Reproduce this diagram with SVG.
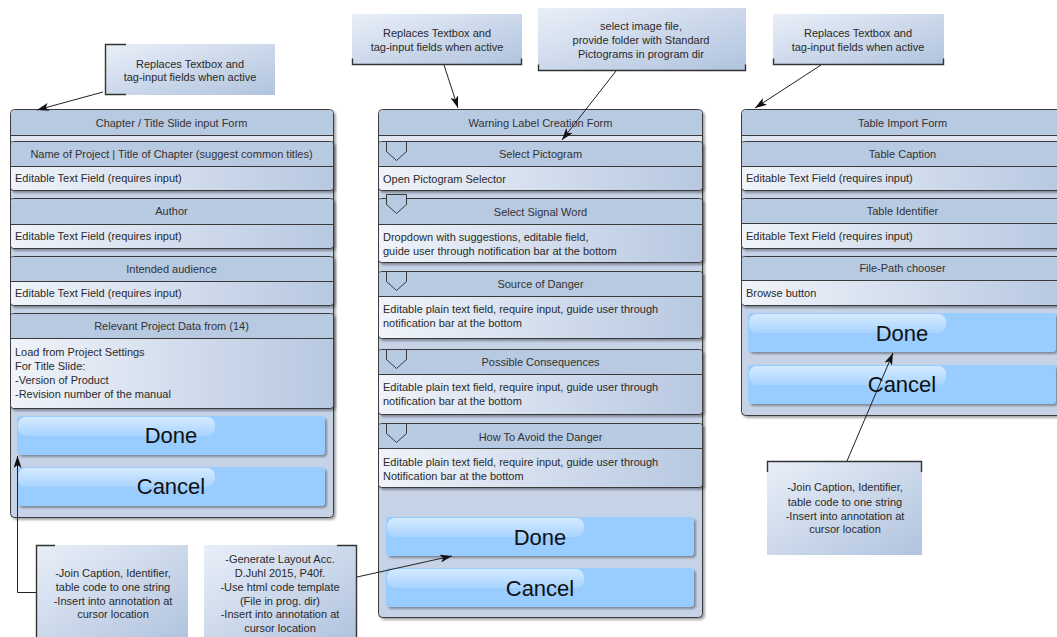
<svg xmlns="http://www.w3.org/2000/svg" width="1057" height="637" viewBox="0 0 1057 637">
  <defs>
    <linearGradient id="noteFill" x1="0" y1="0" x2="1" y2="1">
      <stop offset="0" stop-color="#e9eff8"/>
      <stop offset="1" stop-color="#b0c3de"/>
    </linearGradient>
    <linearGradient id="rowFill" x1="0" y1="0" x2="1" y2="0">
      <stop offset="0" stop-color="#f0f4fa"/>
      <stop offset="1" stop-color="#b7c8e1"/>
    </linearGradient>
    <linearGradient id="glossFill" x1="0" y1="0" x2="0" y2="1">
      <stop offset="0" stop-color="#ffffff" stop-opacity="0.6"/>
      <stop offset="1" stop-color="#ffffff" stop-opacity="0.15"/>
    </linearGradient>
    <filter id="shadow" x="-5%" y="-5%" width="110%" height="115%">
      <feDropShadow dx="2" dy="2" stdDeviation="1.3" flood-color="#000" flood-opacity="0.35"/>
    </filter>
    <marker id="arrow" viewBox="0 0 12 8" refX="12" refY="4" markerWidth="12" markerHeight="8" markerUnits="userSpaceOnUse" orient="auto">
      <path d="M0,0 L12,4 L0,8 L3,4 z" fill="#111"/>
    </marker>
  </defs>
  <style>
    text { font-family: "Liberation Sans", Arial, sans-serif; font-size: 11px; fill: #2a2a2a; }
    .c { text-anchor: middle; }
    .hdtxt { fill: #333; }
    .btntxt { font-size: 22px; fill: #111; text-anchor: middle; }
    .form { fill: #c6d3e7; stroke: #3a3a3a; stroke-width: 1; filter: url(#shadow); }
    .formhd { fill: #b8c9e2; }
    .strip { fill: #dfe6f1; }
    .sep { stroke: #3a3a3a; stroke-width: 1; }
    .secbg { fill: url(#rowFill); stroke: #3a3a3a; stroke-width: 1; filter: url(#shadow); }
    .sechd { fill: #b8c9e2; }
    .pent { fill: #b8c9e2; stroke: #3a3a3a; stroke-width: 1; }
    .btn { fill: #99ccff; filter: url(#shadow); }
    .gloss { fill: url(#glossFill); }
    .note { fill: url(#noteFill); }
    .bracket { fill: none; stroke: #333; stroke-width: 1.4; }
    .conn { fill: none; stroke: #222; stroke-width: 1; }
  </style>

  <rect width="1057" height="637" fill="#ffffff"/>

  <!-- Chapter / Title slide form -->
  <g id="form-chapter">
    <rect class="form" x="10.5" y="109.5" width="323" height="408" rx="4"/>
    <rect class="formhd" x="11" y="110" width="322" height="25" rx="3.5"/>
    <rect class="strip" x="11" y="136" width="322" height="5"/>
    <line class="sep" x1="10.5" y1="135.5" x2="333.5" y2="135.5"/>
    <text class="c hdtxt" x="171.5" y="127">Chapter / Title Slide input Form</text>

    <g id="chapter-name">
      <rect class="secbg" x="10.5" y="141.5" width="323" height="49" rx="3"/>
      <rect class="sechd" x="11" y="142" width="322" height="24.5" rx="2.5"/>
      <line class="sep" x1="10.5" y1="166.5" x2="333.5" y2="166.5"/>
      <text class="c hdtxt" x="171.5" y="158">Name of Project | Title of Chapter (suggest common titles)</text>
      <text x="15" y="182">Editable Text Field (requires input)</text>
    </g>
    <g id="chapter-author">
      <rect class="secbg" x="10.5" y="198.5" width="323" height="50" rx="3"/>
      <rect class="sechd" x="11" y="199" width="322" height="25.5" rx="2.5"/>
      <line class="sep" x1="10.5" y1="224.5" x2="333.5" y2="224.5"/>
      <text class="c hdtxt" x="171.5" y="215">Author</text>
      <text x="15" y="240">Editable Text Field (requires input)</text>
    </g>
    <g id="chapter-audience">
      <rect class="secbg" x="10.5" y="256.5" width="323" height="49" rx="3"/>
      <rect class="sechd" x="11" y="257" width="322" height="24.5" rx="2.5"/>
      <line class="sep" x1="10.5" y1="281.5" x2="333.5" y2="281.5"/>
      <text class="c hdtxt" x="171.5" y="273">Intended audience</text>
      <text x="15" y="297">Editable Text Field (requires input)</text>
    </g>
    <g id="chapter-projectdata">
      <rect class="secbg" x="10.5" y="313.5" width="323" height="95" rx="3"/>
      <rect class="sechd" x="11" y="314" width="322" height="24.5" rx="2.5"/>
      <line class="sep" x1="10.5" y1="338.5" x2="333.5" y2="338.5"/>
      <text class="c hdtxt" x="171.5" y="330">Relevant Project Data from (14)</text>
      <text x="15" y="356">Load from Project Settings</text>
      <text x="15" y="370">For Title Slide:</text>
      <text x="15" y="384">-Version of Product</text>
      <text x="15" y="398">-Revision number of the manual</text>
    </g>
    <g id="chapter-done">
      <rect class="btn" x="17" y="416" width="308" height="39" rx="4"/>
      <rect class="gloss" x="18" y="417" width="197" height="19" rx="8"/>
      <text class="btntxt" x="171" y="443">Done</text>
    </g>
    <g id="chapter-cancel">
      <rect class="btn" x="17" y="467" width="308" height="39" rx="4"/>
      <rect class="gloss" x="18" y="468" width="197" height="19" rx="8"/>
      <text class="btntxt" x="171" y="494">Cancel</text>
    </g>
  </g>

  <!-- Warning label form -->
  <g id="form-warning">
    <rect class="form" x="378.5" y="109.5" width="324" height="508" rx="4"/>
    <rect class="formhd" x="379" y="110" width="323" height="25" rx="3.5"/>
    <rect class="strip" x="379" y="136" width="323" height="5"/>
    <line class="sep" x1="378.5" y1="135.5" x2="702.5" y2="135.5"/>
    <text class="c hdtxt" x="540.5" y="127">Warning Label Creation Form</text>

    <g id="warning-pictogram">
      <rect class="secbg" x="378.5" y="141.5" width="324" height="49" rx="3"/>
      <rect class="sechd" x="379" y="142" width="323" height="24.5" rx="2.5"/>
      <line class="sep" x1="378.5" y1="166.5" x2="702.5" y2="166.5"/>
      <polygon class="pent" points="386.5,141.5 406.5,141.5 406.5,151.5 396.5,160.5 386.5,151.5"/>
      <text class="c hdtxt" x="540.5" y="158">Select Pictogram</text>
      <text x="383" y="183">Open Pictogram Selector</text>
    </g>
    <g id="warning-signalword">
      <rect class="secbg" x="378.5" y="198.5" width="324" height="64" rx="3"/>
      <rect class="sechd" x="379" y="199" width="323" height="25.5" rx="2.5"/>
      <line class="sep" x1="378.5" y1="224.5" x2="702.5" y2="224.5"/>
      <polygon class="pent" points="386.5,194.5 406.5,194.5 406.5,204.5 396.5,213.5 386.5,204.5"/>
      <text class="c hdtxt" x="540.5" y="216">Select Signal Word</text>
      <text x="383" y="241">Dropdown with suggestions, editable field,</text>
      <text x="383" y="255">guide user through notification bar at the bottom</text>
    </g>
    <g id="warning-source">
      <rect class="secbg" x="378.5" y="271.5" width="324" height="67" rx="3"/>
      <rect class="sechd" x="379" y="272" width="323" height="24.5" rx="2.5"/>
      <line class="sep" x1="378.5" y1="296.5" x2="702.5" y2="296.5"/>
      <polygon class="pent" points="386.5,271.5 406.5,271.5 406.5,281.5 396.5,290.5 386.5,281.5"/>
      <text class="c hdtxt" x="540.5" y="288">Source of Danger</text>
      <text x="383" y="313">Editable plain text field, require input, guide user through</text>
      <text x="383" y="327">notification bar at the bottom</text>
    </g>
    <g id="warning-consequences">
      <rect class="secbg" x="378.5" y="349.5" width="324" height="65" rx="3"/>
      <rect class="sechd" x="379" y="350" width="323" height="24.5" rx="2.5"/>
      <line class="sep" x1="378.5" y1="374.5" x2="702.5" y2="374.5"/>
      <polygon class="pent" points="386.5,349.5 406.5,349.5 406.5,359.5 396.5,368.5 386.5,359.5"/>
      <text class="c hdtxt" x="540.5" y="366">Possible Consequences</text>
      <text x="383" y="391">Editable plain text field, require input, guide user through</text>
      <text x="383" y="405">notification bar at the bottom</text>
    </g>
    <g id="warning-avoid">
      <rect class="secbg" x="378.5" y="423.5" width="324" height="64" rx="3"/>
      <rect class="sechd" x="379" y="424" width="323" height="24.5" rx="2.5"/>
      <line class="sep" x1="378.5" y1="448.5" x2="702.5" y2="448.5"/>
      <polygon class="pent" points="386.5,423.5 406.5,423.5 406.5,433.5 396.5,442.5 386.5,433.5"/>
      <text class="c hdtxt" x="540.5" y="441">How To Avoid the Danger</text>
      <text x="383" y="466">Editable plain text field, require input, guide user through</text>
      <text x="383" y="480">Notification bar at the bottom</text>
    </g>
    <g id="warning-done">
      <rect class="btn" x="386" y="517" width="308" height="39" rx="4"/>
      <rect class="gloss" x="387" y="518" width="197" height="19" rx="8"/>
      <text class="btntxt" x="540" y="545">Done</text>
    </g>
    <g id="warning-cancel">
      <rect class="btn" x="386" y="568" width="308" height="39" rx="4"/>
      <rect class="gloss" x="387" y="569" width="197" height="19" rx="8"/>
      <text class="btntxt" x="540" y="596">Cancel</text>
    </g>
  </g>

  <!-- Table import form -->
  <g id="form-table">
    <rect class="form" x="741.5" y="109.5" width="323" height="306" rx="4"/>
    <rect class="formhd" x="742" y="110" width="322" height="25" rx="3.5"/>
    <rect class="strip" x="742" y="136" width="322" height="5"/>
    <line class="sep" x1="741.5" y1="135.5" x2="1064.5" y2="135.5"/>
    <text class="c hdtxt" x="902.5" y="127">Table Import Form</text>

    <g id="table-caption">
      <rect class="secbg" x="741.5" y="141.5" width="323" height="49" rx="3"/>
      <rect class="sechd" x="742" y="142" width="322" height="24.5" rx="2.5"/>
      <line class="sep" x1="741.5" y1="166.5" x2="1064.5" y2="166.5"/>
      <text class="c hdtxt" x="902.5" y="158">Table Caption</text>
      <text x="746" y="182">Editable Text Field (requires input)</text>
    </g>
    <g id="table-identifier">
      <rect class="secbg" x="741.5" y="198.5" width="323" height="50" rx="3"/>
      <rect class="sechd" x="742" y="199" width="322" height="24.5" rx="2.5"/>
      <line class="sep" x1="741.5" y1="223.5" x2="1064.5" y2="223.5"/>
      <text class="c hdtxt" x="902.5" y="215">Table Identifier</text>
      <text x="746" y="240">Editable Text Field (requires input)</text>
    </g>
    <g id="table-filepath">
      <rect class="secbg" x="741.5" y="256.5" width="323" height="49" rx="3"/>
      <rect class="sechd" x="742" y="257" width="322" height="23.5" rx="2.5"/>
      <line class="sep" x1="741.5" y1="280.5" x2="1064.5" y2="280.5"/>
      <text class="c hdtxt" x="902.5" y="272">File-Path chooser</text>
      <text x="746" y="297">Browse button</text>
    </g>
    <g id="table-done">
      <rect class="btn" x="748" y="313" width="308" height="39" rx="4"/>
      <rect class="gloss" x="749" y="314" width="197" height="19" rx="8"/>
      <text class="btntxt" x="902" y="341">Done</text>
    </g>
    <g id="table-cancel">
      <rect class="btn" x="748" y="365" width="308" height="39" rx="4"/>
      <rect class="gloss" x="749" y="366" width="197" height="19" rx="8"/>
      <text class="btntxt" x="902" y="392">Cancel</text>
    </g>
  </g>

  <!-- Notes -->
  <g id="note-chapter">
    <rect class="note" x="105" y="44" width="170" height="51"/>
    <path class="bracket" d="M126,44.5 H105.5 V94.5 H126"/>
    <text class="c" x="190" y="68">Replaces Textbox and</text>
    <text class="c" x="190" y="81">tag-input fields when active</text>
  </g>
  <g id="note-warning">
    <rect class="note" x="352" y="14" width="170" height="51"/>
    <path class="bracket" d="M352.5,58.5 V64.5 H521.5 V58.5"/>
    <text class="c" x="437" y="37">Replaces Textbox and</text>
    <text class="c" x="437" y="51">tag-input fields when active</text>
  </g>
  <g id="note-pictogram">
    <rect class="note" x="538" y="8" width="208" height="63"/>
    <path class="bracket" d="M538.5,64.5 V70.5 H745.5 V64.5"/>
    <text class="c" x="641" y="30">select image file,</text>
    <text class="c" x="641" y="44">provide folder with Standard</text>
    <text class="c" x="641" y="58">Pictograms in program dir</text>
  </g>
  <g id="note-table">
    <rect class="note" x="773" y="14" width="171" height="51"/>
    <path class="bracket" d="M773.5,58.5 V64.5 H943.5 V58.5"/>
    <text class="c" x="858" y="37">Replaces Textbox and</text>
    <text class="c" x="858" y="51">tag-input fields when active</text>
  </g>
  <g id="note-join-left">
    <rect class="note" x="36" y="545" width="152" height="95"/>
    <path class="bracket" d="M55,545.5 H36.5 V640"/>
    <text class="c" x="113" y="577">-Join Caption, Identifier,</text>
    <text class="c" x="113" y="591">table code to one string</text>
    <text class="c" x="113" y="605">-Insert into annotation at</text>
    <text class="c" x="113" y="618">cursor location</text>
  </g>
  <g id="note-layout">
    <rect class="note" x="204" y="545" width="153" height="95"/>
    <path class="bracket" d="M337,545.5 H356.5 V640"/>
    <text class="c" x="280" y="563">-Generate Layout Acc.</text>
    <text class="c" x="280" y="577">D.Juhl 2015, P40f.</text>
    <text class="c" x="280" y="591">-Use html code template</text>
    <text class="c" x="280" y="605">(File in prog. dir)</text>
    <text class="c" x="280" y="618">-Insert into annotation at</text>
    <text class="c" x="280" y="632">cursor location</text>
  </g>
  <g id="note-join-right">
    <rect class="note" x="767" y="461" width="155" height="94"/>
    <path class="bracket" d="M767.5,472 V461.5 H921.5 V472"/>
    <text class="c" x="845" y="491">-Join Caption, Identifier,</text>
    <text class="c" x="845" y="506">table code to one string</text>
    <text class="c" x="845" y="520">-Insert into annotation at</text>
    <text class="c" x="845" y="533">cursor location</text>
  </g>

  <!-- Connectors -->
  <g id="connectors">
    <line class="conn" x1="103" y1="92" x2="37" y2="110" marker-end="url(#arrow)"/>
    <line class="conn" x1="444" y1="65" x2="458" y2="108" marker-end="url(#arrow)"/>
    <line class="conn" x1="616" y1="71" x2="562" y2="140" marker-end="url(#arrow)"/>
    <line class="conn" x1="821" y1="65" x2="755" y2="108" marker-end="url(#arrow)"/>
    <polyline class="conn" points="36,592.5 17.5,592.5 17.5,456" marker-end="url(#arrow)"/>
    <line class="conn" x1="357" y1="577" x2="452" y2="556" marker-end="url(#arrow)"/>
    <line class="conn" x1="847" y1="461" x2="893" y2="353" marker-end="url(#arrow)"/>
  </g>
</svg>
